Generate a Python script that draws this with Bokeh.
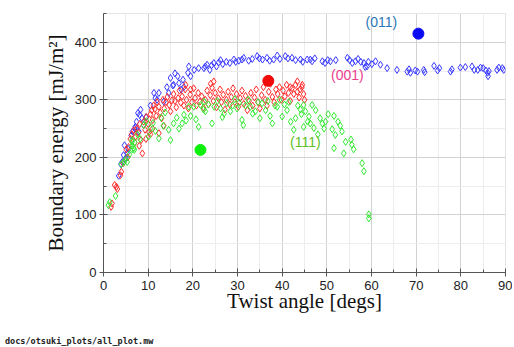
from bokeh.plotting import figure
from bokeh.models import Label, SingleIntervalTicker, Range1d, Div
from bokeh.layouts import column
from bokeh.embed import file_html
from bokeh.resources import INLINE

# ---------------- data ----------------
blue_x = [3.4, 3.9, 4.2, 4.5, 4.7, 4.8, 5.0, 5.3, 5.5, 6.2, 6.5, 7.0, 7.1, 7.4, 7.7, 7.9, 8.1, 8.3, 8.6, 9.0,
          9.5, 10.5, 11.3, 11.6, 12.0, 12.4, 13.5, 14.2, 14.6, 15.0, 15.5, 15.7, 16.0, 16.6, 16.9, 17.4, 17.8, 18.0,
          18.9, 19.1, 19.5, 20.3, 21.3, 22.5, 22.8, 23.2, 23.8, 24.2, 24.7, 25.3, 25.8, 26.2, 26.7, 27.5, 28.3,
          29.2, 29.6, 30.3, 31.0, 31.4, 32.5, 33.3, 34.4, 34.9, 35.6, 36.6, 37.2, 38.1, 38.9, 39.5, 40.7, 41.3,
          42.2, 43.0, 44.1, 44.6, 45.6, 46.3, 46.7, 47.3, 49.0, 49.6, 50.2, 50.8, 52.0, 54.6, 55.1, 55.7, 56.4,
          57.0, 57.6, 58.3, 58.6, 59.0, 59.3, 60.1, 60.9, 62.0, 63.5, 65.7, 68.0, 68.4, 68.7, 69.8, 70.3, 71.7,
          71.9, 74.0, 74.8, 75.2, 77.7, 78.0, 79.9, 81.0, 82.5, 83.0, 83.8, 84.4, 85.0, 85.6, 86.0, 86.1, 86.3,
          88.1, 88.5, 89.3, 89.6]
blue_y = [168, 188, 192, 204, 221, 196, 199, 207, 215, 238, 245, 250, 253, 262, 277, 245, 274, 283, 268, 256,
          270, 290, 312, 303, 300, 312, 297, 322, 312, 338, 325, 326, 346, 341, 329, 318, 335, 322,
          347, 358, 341, 352, 355, 355, 358, 361, 352, 360, 364, 358, 365, 369, 362, 366, 364,
          370, 366, 368, 370, 373, 368, 371, 376, 372, 370, 373, 368, 370, 377, 371, 376, 372,
          373, 369, 370, 366, 370, 370, 367, 372, 367, 364, 369, 367, 369, 373, 369, 364, 367,
          371, 366, 364, 357, 358, 366, 362, 367, 361, 355, 352, 349, 353, 347, 351, 349, 352,
          348, 359, 351, 355, 349, 353, 356, 357, 358, 352, 352, 356, 355, 351, 347, 341, 350,
          352, 356, 355, 352]

red_x = [1.7, 1.9, 2.5, 2.9, 3.1, 3.8, 4.0, 4.4, 5.1, 5.4, 5.6, 6.0, 6.3, 6.8, 7.0, 7.2, 7.5, 7.8, 8.0, 8.1,
         8.4, 8.7, 9.0, 9.3, 9.5, 9.6, 10.0, 10.2, 10.5, 10.5, 10.8, 11.0, 11.0, 11.2, 11.5, 11.8, 12.0, 12.4,
         12.4, 12.7, 13.0, 13.3, 13.5, 13.6, 14.0, 14.3, 14.7, 15.0, 15.3, 15.7, 16.0, 16.3, 16.7, 17.0, 17.3,
         17.6, 18.0, 18.3, 18.4, 18.6, 19.0, 19.4, 19.5, 19.8, 20.2, 20.5, 20.8, 21.2, 21.6, 22.0, 22.4, 22.8,
         23.2, 23.5, 23.9, 24.0, 24.3, 24.6, 24.7, 25.0, 25.3, 25.7, 26.1, 26.4, 26.8, 27.2, 27.5, 27.9, 28.3,
         28.6, 29.0, 29.4, 29.8, 30.2, 30.6, 31.0, 31.4, 31.8, 32.2, 32.6, 33.0, 33.4, 33.8, 34.2, 34.6, 35.0,
         35.4, 35.8, 36.2, 36.6, 37.0, 37.4, 37.8, 38.2, 38.6, 39.0, 39.4, 39.8, 40.2, 40.6, 41.0, 41.4, 41.8,
         41.8, 42.2, 42.6, 43.0, 43.4, 43.4, 43.8, 44.0, 44.4, 44.5, 44.8, 45.0]
red_y = [114, 120, 152, 149, 145, 169, 175, 190, 214, 200, 218, 232, 240, 247, 226, 236, 250, 243, 220, 258,
         230, 207, 262, 248, 232, 270, 258, 244, 275, 240, 282, 265, 250, 290, 284, 272, 296, 288,
         242, 278, 268, 300, 255, 285, 296, 305, 291, 280, 299, 310, 298, 287, 303, 316, 295,
         306, 290, 318, 326, 300, 285, 309, 318, 296, 320, 303, 290, 312, 297, 306, 286, 300,
         316, 292, 308, 328, 321, 298, 332, 312, 287, 303, 318, 296, 309, 283, 300, 314, 292,
         305, 320, 296, 310, 288, 303, 316, 293, 307, 282, 298, 312, 290, 304, 318, 296, 285,
         308, 322, 300, 290, 314, 328, 305, 296, 318, 310, 322, 300, 316, 306, 326, 312, 298,
         322, 320, 310, 326, 314, 332, 304, 318, 322, 326, 310, 300]

green_x = [1.1, 1.4, 2.7, 4.0, 4.6, 4.9, 5.3, 5.8, 6.4, 6.4, 6.9, 6.4, 6.4, 6.8, 7.0, 7.6, 8.2, 9.0, 9.6, 10.1,
           10.5, 11.1, 11.6, 12.4, 12.9, 13.4, 13.8, 14.6, 15.0, 15.7, 16.4, 16.9, 17.6, 18.0, 18.5, 19.1, 19.5,
           20.2, 20.7, 21.3, 21.7, 22.4, 22.5, 22.8, 23.5, 24.3, 24.8, 25.5, 26.2, 26.6, 27.0, 27.6, 28.4, 28.9,
           29.4, 29.9, 30.4, 31.0, 31.3, 31.8, 32.4, 32.9, 33.4, 34.0, 34.6, 35.0, 35.5, 36.3, 36.8, 37.3, 37.8,
           38.4, 38.9, 39.4, 40.0, 40.5, 41.1, 41.5, 41.9, 42.6, 43.0, 43.5, 44.1, 44.3, 44.8, 44.8, 45.2, 45.7,
           46.0, 46.3, 46.7, 47.1, 47.5, 48.0, 48.5, 49.0, 49.4, 49.7, 50.3, 51.2, 51.6, 51.6, 51.9, 52.5, 53.0,
           53.4, 53.8, 54.2, 55.4, 55.6, 56.0, 57.9, 58.3, 59.4, 59.4]
green_y = [117, 122, 133, 188, 192, 196, 192, 205, 214, 220, 213, 227, 230, 216, 226, 240, 232, 256, 263, 236,
           250, 260, 246, 233, 269, 255, 278, 248, 230, 259, 269, 250, 259, 274, 264, 288, 272,
           288, 266, 253, 291, 283, 297, 280, 292, 259, 288, 298, 285, 270, 276, 294, 280, 290,
           301, 285, 295, 265, 256, 290, 300, 288, 276, 280, 296, 268, 294, 282, 298, 272, 259,
           290, 288, 300, 271, 292, 282, 296, 262, 248, 268, 290, 283, 275, 291, 253, 280, 262,
           271, 259, 291, 251, 282, 240, 268, 259, 250, 262, 275, 249, 272, 216, 239, 262, 255,
           245, 207, 227, 231, 222, 214, 190, 176, 101, 94]

dot_x = [70.5, 36.9, 21.7]
dot_y = [415, 333, 213]
dot_colors = ["#0a0af0", "#f00a0a", "#0af00a"]

label_text = ["(011)", "(001)", "(111)"]
label_x = [62.2, 54.6, 45.2]
label_y = [435, 344, 227]
label_colors = ["#2b78b8", "#ea3f8d", "#5fbf25"]

footer_text = "docs/otsuki_plots/all_plot.mw"

x_ticks_step = 10
y_ticks_step = 100

# ---------------- figure ----------------
p = figure(width=512, height=335, output_backend="svg", toolbar_location=None,
           x_range=Range1d(0, 90), y_range=Range1d(0, 450),
           min_border_left=103, min_border_right=7, min_border_top=13, min_border_bottom=63,
           background_fill_color="white", border_fill_color="white")
p.outline_line_color = "#e4e4e4"

p.xaxis.ticker = SingleIntervalTicker(interval=x_ticks_step, num_minor_ticks=2)
p.yaxis.ticker = SingleIntervalTicker(interval=y_ticks_step, num_minor_ticks=2)

for ax in (p.xaxis, p.yaxis):
    ax.axis_line_color = "#555555"
    ax.major_tick_line_color = "#555555"
    ax.minor_tick_line_color = "#555555"
    ax.major_tick_in = 4
    ax.major_tick_out = 4
    ax.minor_tick_in = 3
    ax.minor_tick_out = 0
    ax.major_label_text_font = "Liberation Sans"
    ax.major_label_text_font_size = "13px"
    ax.major_label_text_color = "#222222"
    ax.axis_label_text_font = "Liberation Serif"
    ax.axis_label_text_font_size = "21px"
    ax.axis_label_text_font_style = "normal"
    ax.axis_label_text_color = "#111111"
    ax.major_label_standoff = 3

p.xaxis.major_label_standoff = 4
p.xaxis.axis_label_standoff = -4
p.yaxis.axis_label_standoff = 4

p.xaxis.axis_label = "Twist angle [degs]"
p.yaxis.axis_label = "Boundary energy [mJ/m²]"

p.xgrid.grid_line_color = "#d2d2d2"
p.ygrid.grid_line_color = "#d2d2d2"
p.xgrid.minor_grid_line_color = "#ededed"
p.ygrid.minor_grid_line_color = "#ededed"

p.scatter(blue_x, blue_y, marker="diamond", size=7, fill_color=None,
          line_color="#3a3aff", line_width=1)
p.scatter(red_x, red_y, marker="diamond", size=7, fill_color=None,
          line_color="#ff2a2a", line_width=1)
p.scatter(green_x, green_y, marker="diamond", size=7, fill_color=None,
          line_color="#33e833", line_width=1)

p.scatter(dot_x, dot_y, marker="circle", size=11, fill_color=dot_colors,
          line_color=dot_colors)

for t, lx, ly, c in zip(label_text, label_x, label_y, label_colors):
    p.add_layout(Label(x=lx, y=ly, text=t, text_color=c, text_font="Liberation Sans",
                       text_font_size="14px", text_align="center", text_baseline="middle"))

footer = Div(text=footer_text, width=300, height=12, margin=(0, 0, 0, 5),
             styles={"font-family": "DejaVu Sans Mono", "font-size": "8.5px",
                     "font-weight": "bold", "color": "#222222", "line-height": "12px"})

layout = column(p, footer, spacing=0)

open("out.html", "w").write(file_html(layout, INLINE))
